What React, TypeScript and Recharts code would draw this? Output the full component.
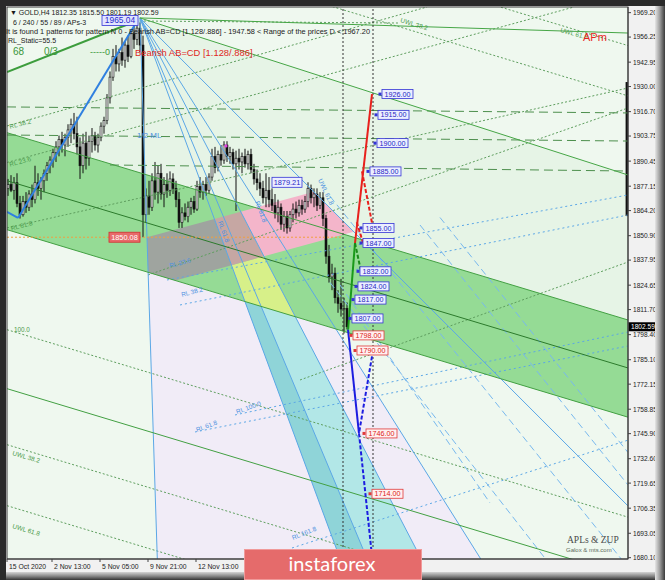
import React from 'react';
import {
  ComposedChart,
  Bar,
  XAxis,
  YAxis,
  ReferenceLine,
  ReferenceArea,
  ReferenceDot,
} from 'recharts';

type Pt = [number, number];

// ---------- GOLD H4 candles (bar index = position on the time axis) ----------
const opens = [
  1876, 1878, 1875, 1879, 1868, 1862, 1869, 1866, 1873, 1870,
  1879, 1876, 1880, 1884, 1888, 1891, 1895, 1898, 1902, 1899,
  1903, 1907, 1910, 1905, 1898, 1888, 1900, 1892, 1901, 1904,
  1899, 1903, 1909, 1912, 1924, 1935, 1946, 1942, 1948, 1944,
  1952, 1946, 1958, 1955, 1961, 1952, 1862, 1872, 1866, 1880,
  1874, 1884, 1873, 1878, 1875, 1881, 1876, 1870, 1858, 1863,
  1861, 1866, 1869, 1865, 1877, 1874, 1878, 1875, 1882, 1893,
  1887, 1894, 1891, 1899, 1893, 1895, 1889, 1892, 1890, 1893,
  1889, 1894, 1886, 1881, 1879, 1876, 1871, 1875, 1870, 1867,
  1863, 1866, 1857, 1861, 1855, 1862, 1865, 1863, 1867, 1865,
  1869, 1876, 1871, 1873, 1867, 1871, 1860, 1840, 1829, 1831,
  1818, 1815, 1812, 1812.35,
];
const highs = [
  1881, 1883, 1882, 1884, 1872, 1872, 1874, 1875, 1878, 1888,
  1884, 1882, 1886, 1890, 1893, 1897, 1901, 1904, 1906, 1905,
  1910, 1913, 1916, 1914, 1903, 1905, 1906, 1904, 1908, 1906,
  1905, 1911, 1914, 1926, 1938, 1950, 1952, 1950, 1956, 1954,
  1957, 1960, 1963, 1965.04, 1964, 1957, 1876, 1880, 1884, 1890,
  1888, 1889, 1882, 1884, 1885, 1884, 1880, 1874, 1866, 1868,
  1869, 1871, 1872, 1880, 1882, 1880, 1882, 1884, 1897, 1898,
  1896, 1899, 1901, 1901, 1898, 1897, 1896, 1897, 1895, 1897,
  1896, 1897, 1889, 1886, 1884, 1880, 1884, 1882, 1876, 1873,
  1870, 1868, 1864, 1864, 1864, 1868, 1869, 1870, 1870, 1872,
  1879.21, 1878, 1876, 1876, 1874, 1874, 1862, 1846, 1836, 1834,
  1822, 1828, 1818, 1815.5,
];
const lows = [
  1872, 1874, 1870, 1866, 1860, 1861, 1863, 1864, 1866, 1868,
  1872, 1870, 1874, 1880, 1884, 1887, 1890, 1893, 1895, 1893,
  1898, 1900, 1902, 1894, 1881, 1884, 1886, 1888, 1895, 1896,
  1895, 1901, 1905, 1910, 1921, 1933, 1938, 1938, 1941, 1940,
  1943, 1945, 1950, 1952, 1948, 1850.08, 1858, 1862, 1864, 1870,
  1868, 1870, 1866, 1871, 1872, 1873, 1866, 1855, 1855, 1859,
  1858, 1862, 1863, 1864, 1871, 1870, 1872, 1873, 1880, 1884,
  1885, 1888, 1889, 1890, 1889, 1886, 1864, 1886, 1884, 1887,
  1886, 1884, 1878, 1875, 1872, 1868, 1866, 1866, 1864, 1860,
  1858, 1854, 1853, 1852, 1853, 1858, 1860, 1861, 1862, 1863,
  1866, 1868, 1866, 1864, 1865, 1856, 1836, 1826, 1822, 1815,
  1810, 1808, 1799, 1801.19,
];
const closes = [
  1878, 1875, 1879, 1868, 1862, 1869, 1866, 1873, 1870, 1879,
  1876, 1880, 1884, 1888, 1891, 1895, 1898, 1902, 1899, 1903,
  1907, 1910, 1905, 1898, 1888, 1900, 1892, 1901, 1904, 1899,
  1903, 1909, 1912, 1924, 1935, 1946, 1942, 1948, 1944, 1952,
  1946, 1958, 1955, 1961, 1952, 1862, 1872, 1866, 1880, 1874,
  1884, 1873, 1878, 1875, 1881, 1876, 1870, 1858, 1863, 1861,
  1866, 1869, 1865, 1877, 1874, 1878, 1875, 1882, 1893, 1887,
  1894, 1891, 1899, 1893, 1895, 1889, 1892, 1890, 1893, 1889,
  1894, 1886, 1881, 1879, 1876, 1871, 1875, 1870, 1867, 1863,
  1866, 1857, 1861, 1855, 1862, 1865, 1863, 1867, 1865, 1869,
  1876, 1871, 1873, 1867, 1871, 1860, 1840, 1829, 1831, 1818,
  1815, 1812, 1812.35, 1802.59,
];

// ---------- axes ----------
const timeTicks = [0, 15, 31, 47, 63];
const timeLabels = ['15 Oct 2020', '2 Nov 13:00', '5 Nov 05:00', '9 Nov 21:00', '12 Nov 13:00'];
const priceTicks = [
  1969.2, 1956.25, 1942.95, 1930.0, 1916.7, 1903.75, 1890.45, 1877.15,
  1864.2, 1850.9, 1837.95, 1824.65, 1811.7, 1798.4, 1785.1, 1772.15,
  1758.85, 1745.9, 1732.6, 1719.65, 1706.35, 1693.05, 1680.1,
];
const lastPrice = 1802.59;
const X_MAX = 207;
const Y_MIN = 1679.4;
const Y_MAX = 1972.2;

// ---------- shaded zones (bar index, price) ----------
const upperField: Pt[] = [[0, 1937.72], [44.33, 1966.4], [207, 1883.09], [207, 1806.18], [0, 1905.53]];
const channelBand: Pt[] = [[0, 1905.53], [207, 1806.18], [207, 1754.63], [0, 1854.08]];
const lavenderZone: Pt[] = [[47.03, 1831.43], [109.63, 1801.46], [157.93, 1679.4], [50.1, 1679.4]];
const cyanZone: Pt[] = [[79.3, 1816.0], [96.13, 1807.88], [138.1, 1679.4], [111.07, 1679.4]];
const tealZone: Pt[] = [[79.3, 1816.0], [84.33, 1814.83], [120.07, 1679.4], [111.07, 1679.4]];
const yellowZone: Pt[] = [[74.83, 1835.25], [85.63, 1839.97], [96.13, 1807.88], [79.3, 1816.0]];
const greyZone: Pt[] = [[46.67, 1850.05], [69.1, 1859.81], [74.83, 1835.25], [56.13, 1827.14], [47.03, 1831.43]];
const rosyZone: Pt[] = [[69.1, 1859.81], [77.9, 1863.63], [85.63, 1839.97], [74.83, 1835.25]];
const pinkZone: Pt[] = [[77.9, 1863.63], [102.27, 1874.18], [115.6, 1852.96], [85.63, 1839.97]];

// ---------- line work ----------
const fanOrigin: Pt = [44.33, 1966.4];
const fanEnds: Pt[] = [[50.1, 1679.4], [111.07, 1679.4], [120.07, 1679.4], [138.1, 1679.4], [157.93, 1679.4], [207, 1707.53]];

const channelEdges: [Pt, Pt][] = [
  [[0, 1905.53], [207, 1806.18]],
  [[0, 1854.08], [207, 1754.63]],
  [[0, 1769.75], [207, 1670.3]],
];
const channelMedian: [Pt, Pt][] = [[[0, 1880.07], [207, 1780.73]]];
const peakRays: [Pt, Pt][] = [
  [[44.33, 1966.4], [207, 1958.4]],
  [[44.33, 1966.4], [207, 1883.09]],
];
const greenTrend: [Pt, Pt][] = [[[0, 1937.72], [43.5, 1965.04]]];
const greenDotted: [Pt, Pt][] = [
  [[0, 1740.04], [207, 1640.6]],
  [[0, 1707.69], [207, 1608.24]],
  [[0, 1801.04], [207, 1701.59]],
  [[0, 2024.55], [207, 1925.05]],
  [[0, 2051.23], [207, 1951.73]],
  [[44.33, 1964.77], [131, 1963.7]],
  [[0, 1909.08], [140, 1972.2]],
  [[0, 1889.72], [189, 1972.2]],
  [[0, 1855.0], [207, 1929.24]],
  [[47, 1830.05], [207, 1918.63]],
  [[97.67, 1774.36], [207, 1836.95]],
];
const greenDashed: [Pt, Pt][] = [
  [[0, 1919.2], [207, 1916.0]],
  [[0, 1904.3], [207, 1901.1]],
  [[34.33, 1888.4], [207, 1885.2]],
];
const blueTrend: [Pt, Pt][] = [
  [[3.67, 1860.29], [43.5, 1965.04]],
  [[0, 1863.5], [3.67, 1860.29]],
];
const blueDashed: [Pt, Pt][] = [
  [[107.67, 1871.82], [207, 1674.95]],
  [[107.67, 1826.07], [179.53, 1679.4]],
  [[111, 1824.75], [161, 1709.12]],
  [[137.67, 1856.57], [207, 1718.67]],
  [[144.33, 1860.55], [207, 1735.9]],
];
const blueDotted: [Pt, Pt][] = [
  [[53.33, 1827.4], [207, 1872.5]],
  [[57.67, 1814.14], [207, 1861.88]],
  [[62.67, 1746.78], [207, 1792.39]],
  [[76, 1755.8], [207, 1799.82]],
  [[95, 1685.25], [207, 1742.45]],
];
const lowLevel = 1850.08;
const lowLevelEnd = 112;
const sessionMarks = [112, 122];

// AB=CD projections
const redSolid: [Pt, Pt][] = [[[116, 1847], [121.67, 1926]]];
const redDashed: [Pt, Pt][] = [[[118.33, 1885], [122, 1855]], [[116.6, 1858], [118.7, 1847]]];
const greenSolid: [Pt, Pt][] = [[[113.7, 1801], [116, 1847]]];
const greenDash2: [Pt, Pt][] = [[[116, 1847], [118, 1832]]];
const blueSolid: [Pt, Pt][] = [[[113.67, 1801], [117.33, 1746]]];
const blueDash2: [Pt, Pt][] = [[[122, 1790], [117.33, 1746]], [[117.33, 1746], [122, 1676]]];

// target boxes: [price, bar index of marker]
const blueTargets: Pt[] = [
  [1926, 124.33], [1915, 123], [1900, 122.67], [1885, 120.33], [1855, 118],
  [1847, 118], [1832, 117], [1824, 116.33], [1817, 115.33], [1807, 114.33],
];
const redTargets: Pt[] = [[1798, 114.67], [1790, 116], [1746, 119], [1714, 121]];

// price tags placed to the left of their point: [bar index, price]
const swingHigh: Pt = [43.67, 1965.04];
const swingLow: Pt = [44.33, 1850.08];
const pointD: Pt = [98.33, 1879.21];

// captions: [bar index, price, text, rotation]
const greenCaptions: [number, number, string, number][] = [
  [131, 1964.2, 'UWL 38.2', 17],
  [184.3, 1958.9, 'UWL 61.8', 15],
  [1, 1907.5, 'RL 38.2', -15],
  [1, 1887.5, 'RL 23.6', -15],
  [1.5, 1853.5, 'RL 61.8', -15],
  [2.3, 1800, '100.0', 0],
  [1.7, 1734.6, 'UWL 38.2', 17],
  [1.7, 1695.9, 'UWL 61.8', 17],
];
const blueCaptions: [number, number, string, number][] = [
  [54.3, 1833.8, 'RL 23.6', -15],
  [58.3, 1818.4, 'RL 38.2', -15],
  [70.3, 1858.2, 'RL 61.8', 70],
  [82.7, 1868.8, 'RL 61.8', 70],
  [63.3, 1746.8, 'RL 61.8', -20],
  [76.7, 1756.3, 'RL 100.0', -20],
  [95.3, 1689.5, 'RL 161.8', -22],
  [103.7, 1880.4, 'UWL 61.8', 65],
  [43.3, 1902.7, '1/2 ML', 0],
];

const FONT = '"Liberation Sans", Arial, "DejaVu Sans", sans-serif';

// ---------- drawing helpers ----------
const PolyFill = (props: any) => {
  const { x, y, width, height, pts, bounds, color } = props;
  const [bx1, bx2, by1, by2] = bounds;
  const d =
    pts
      .map((p: Pt, i: number) => {
        const px = x + ((p[0] - bx1) / (bx2 - bx1)) * width;
        const py = y + ((by2 - p[1]) / (by2 - by1)) * height;
        return `${i ? 'L' : 'M'}${px},${py}`;
      })
      .join(' ') + 'Z';
  return <path d={d} fill={color} stroke="none" />;
};

const zoneEl = (key: string, pts: Pt[], color: string) => {
  const xs = pts.map((p) => p[0]);
  const ys = pts.map((p) => p[1]);
  const b = [Math.min(...xs), Math.max(...xs), Math.min(...ys), Math.max(...ys)];
  return (
    <ReferenceArea
      key={key}
      x1={b[0]}
      x2={b[1]}
      y1={b[2]}
      y2={b[3]}
      ifOverflow="hidden"
      shape={(p: any) => <PolyFill {...p} pts={pts} bounds={b} color={color} />}
    />
  );
};

const lineEls = (key: string, list: [Pt, Pt][], stroke: string, width = 1, dash?: string) =>
  list.map((s, i) => (
    <ReferenceLine
      key={`${key}-${i}`}
      segment={[{ x: s[0][0], y: s[0][1] }, { x: s[1][0], y: s[1][1] }]}
      stroke={stroke}
      strokeWidth={width}
      strokeDasharray={dash}
      ifOverflow="hidden"
    />
  ));

const Candle = (props: any) => {
  const { x, y, width, height, payload } = props;
  const { o, h, l, c } = payload;
  const top = Math.min(y, y + height);
  const hgt = Math.abs(height);
  const cx = x + width / 2;
  const span = h - l || 1;
  const yOf = (v: number) => top + ((h - v) / span) * hgt;
  const bTop = yOf(Math.max(o, c));
  const bBot = yOf(Math.min(o, c));
  const up = c >= o;
  return (
    <g>
      <line x1={cx} x2={cx} y1={top} y2={top + hgt} stroke="#111" strokeWidth={1} />
      <rect
        x={cx - 1}
        y={bTop}
        width={2}
        height={Math.max(bBot - bTop, 0.8)}
        fill={up ? '#e6e6e6' : '#111'}
        stroke="#111"
        strokeWidth={0.6}
      />
    </g>
  );
};

const targetShape = (label: string, blue: boolean) => (p: any) => {
  const stroke = blue ? '#3434d6' : '#e03a3a';
  const fill = blue ? '#eceeff' : '#fff0f0';
  const ink = blue ? '#2626c4' : '#dc2020';
  return (
    <g>
      <rect x={p.cx - 1.5} y={p.cy - 1.5} width={3} height={3} fill={stroke} />
      <rect x={p.cx + 2} y={p.cy - 4.5} width={31} height={9} fill={fill} stroke={stroke} strokeWidth={0.8} />
      <text x={p.cx + 17.5} y={p.cy + 2.6} textAnchor="middle" fontSize={7.2} fontFamily={FONT} fill={ink}>
        {label}
      </text>
    </g>
  );
};

const leftTagShape = (label: string, w: number, fill: string, stroke: string, ink: string, size: number) => (p: any) => (
  <g>
    <rect x={p.cx - w} y={p.cy - 5} width={w} height={10} fill={fill} stroke={stroke} strokeWidth={0.8} />
    <text x={p.cx - w / 2} y={p.cy + 3} textAnchor="middle" fontSize={size} fontFamily={FONT} fill={ink}>
      {label}
    </text>
  </g>
);

const captionShape = (text: string, color: string, size: number, rot: number) => (p: any) => (
  <text
    x={p.cx}
    y={p.cy}
    fill={color}
    fontSize={size}
    fontFamily={FONT}
    transform={rot ? `rotate(${rot} ${p.cx} ${p.cy})` : undefined}
  >
    {text}
  </text>
);

const PriceTick = (props: any) => {
  const { x, y, payload } = props;
  return (
    <text x={x} y={y + 2.4} fontSize={6.6} fontFamily={FONT} fill="#222" textAnchor="start">
      {Number(payload.value).toFixed(2)}
    </text>
  );
};

const TimeTick = (props: any) => {
  const { x, y, payload } = props;
  const i = timeTicks.indexOf(payload.value);
  return (
    <text x={x + 2} y={y + 5} fontSize={6.8} fontFamily={FONT} fill="#222" textAnchor="start">
      {timeLabels[i] ?? ''}
    </text>
  );
};

export default function App() {
  const candles = opens.map((o, i) => ({ x: i + 0.5, o, h: highs[i], l: lows[i], c: closes[i] }));

  return (
    <div style={{ position: 'absolute', left: 0, top: 0, width: 665, height: 580, background: '#f1f1f1', overflow: 'hidden' }}>
      <ComposedChart width={665} height={580} data={candles} margin={{ top: 7, right: 0, bottom: 0, left: 7 }}>
        <XAxis
          dataKey="x"
          type="number"
          domain={[0, X_MAX]}
          allowDataOverflow
          ticks={timeTicks}
          interval={0}
          height={21}
          tickSize={3}
          tick={<TimeTick />}
          stroke="#444"
        />
        <YAxis
          orientation="right"
          type="number"
          domain={[Y_MIN, Y_MAX]}
          allowDataOverflow
          ticks={priceTicks}
          interval={0}
          width={37}
          tickSize={3}
          tick={<PriceTick />}
          stroke="#444"
        />

        <ReferenceArea x1={0} x2={X_MAX} y1={Y_MIN} y2={Y_MAX} fill="#eff8ef" fillOpacity={1} ifOverflow="hidden" />
        {zoneEl('upper', upperField, '#e6f4e6')}
        {zoneEl('band', channelBand, '#95db95')}
        {zoneEl('lav', lavenderZone, '#f1ecf7')}
        {zoneEl('cyan', cyanZone, '#b2e7e7')}
        {zoneEl('teal', tealZone, '#8fd4d8')}
        {zoneEl('yel', yellowZone, '#d7f089')}
        {zoneEl('grey', greyZone, '#9fa49f')}
        {zoneEl('rosy', rosyZone, '#c6a7a3')}
        {zoneEl('pink', pinkZone, '#f4b5ca')}

        {lineEls('gd', greenDotted, '#5e9e5e', 1, '2 2')}
        {lineEls('gdash', greenDashed, '#4d8f4d', 1, '9 5')}
        {lineEls('bdot', blueDotted, '#5ba7e6', 1, '2 3')}
        {lineEls('bdash', blueDashed, '#78b8ee', 1, '7 4')}
        {lineEls(
          'fan',
          fanEnds.map((e) => [fanOrigin, e] as [Pt, Pt]),
          '#5ba7e6',
          1
        )}
        {lineEls('edge', channelEdges, '#43a043', 1)}
        {lineEls('med', channelMedian, '#2c7a2c', 1)}
        {lineEls('ray', peakRays, '#46a646', 1)}
        {lineEls('gtr', greenTrend, '#3d9d3d', 2)}
        {lineEls('btr', blueTrend, '#2f80e0', 2)}
        <ReferenceLine
          segment={[{ x: 0, y: lowLevel }, { x: lowLevelEnd, y: lowLevel }]}
          stroke="#f0a040"
          strokeDasharray="2 2"
          ifOverflow="hidden"
        />
        {sessionMarks.map((m) => (
          <ReferenceLine key={`vm-${m}`} x={m} stroke="#333" strokeDasharray="2 2" />
        ))}
        <ReferenceArea x1={206.2} x2={X_MAX} y1={1861.3} y2={1932.4} fill="#111" fillOpacity={1} ifOverflow="hidden" />

        <Bar
          dataKey={(d: any) => [d.l, d.h]}
          barSize={2}
          isAnimationActive={false}
          shape={(p: any) => <Candle {...p} />}
        />

        {lineEls('rs', redSolid, '#e8201c', 2)}
        {lineEls('rd', redDashed, '#e8201c', 2, '4 2')}
        {lineEls('gs', greenSolid, '#1a9a1a', 2)}
        {lineEls('gdd', greenDash2, '#1a8a1a', 2, '4 2')}
        {lineEls('bs', blueSolid, '#1c1ce0', 2)}
        {lineEls('bd', blueDash2, '#1c1ce0', 2, '4 2')}

        <ReferenceDot x={73} y={1898.5} r={1.6} fill="#e040e0" stroke="none" />

        {blueTargets.map(([price, idx]) => (
          <ReferenceDot key={`bt-${price}`} x={idx} y={price} r={0} ifOverflow="visible" shape={targetShape(price.toFixed(2), true)} />
        ))}
        {redTargets.map(([price, idx]) => (
          <ReferenceDot key={`rt-${price}`} x={idx} y={price} r={0} ifOverflow="visible" shape={targetShape(price.toFixed(2), false)} />
        ))}
        <ReferenceDot x={swingHigh[0]} y={swingHigh[1]} r={0} ifOverflow="visible"
          shape={leftTagShape(swingHigh[1].toFixed(2), 36, '#e2e5ff', '#3434d6', '#2a2acc', 8.4)} />
        <ReferenceDot x={swingLow[0]} y={swingLow[1]} r={0} ifOverflow="visible"
          shape={leftTagShape(swingLow[1].toFixed(2), 31, '#e86a6a', '#d03030', '#ffffff', 7.4)} />
        <ReferenceDot x={pointD[0]} y={pointD[1]} r={0} ifOverflow="visible"
          shape={leftTagShape(pointD[1].toFixed(2), 30, '#eceeff', '#3434d6', '#2626c4', 7.4)} />

        {greenCaptions.map(([x, y, t, r], i) => (
          <ReferenceDot key={`gc-${i}`} x={x} y={y} r={0} ifOverflow="visible" shape={captionShape(t, '#4a9a4a', 6.4, r)} />
        ))}
        {blueCaptions.map(([x, y, t, r], i) => (
          <ReferenceDot key={`bc-${i}`} x={x} y={y} r={0} ifOverflow="visible" shape={captionShape(t, '#4a90e0', t === '1/2 ML' ? 8 : 6.4, r)} />
        ))}
        <ReferenceDot x={42.67} y={1946.2} r={0} ifOverflow="visible" shape={captionShape('Bearish AB=CD [1.128/.886]', '#e0281e', 9.4, 0)} />
        <ReferenceDot x={192} y={1954.2} r={0} ifOverflow="visible" shape={captionShape('APm', '#e8281e', 11, 0)} />

        <ReferenceDot
          x={X_MAX}
          y={lastPrice}
          r={0}
          ifOverflow="visible"
          shape={(p: any) => (
            <g>
              <rect x={p.cx + 0.5} y={p.cy - 4.5} width={30} height={9} fill="#000" />
              <text x={p.cx + 3} y={p.cy + 2.4} fontSize={6.6} fontFamily={FONT} fill="#fff">
                {lastPrice.toFixed(2)}
              </text>
            </g>
          )}
        />
      </ComposedChart>

      <svg
        width={665}
        height={580}
        style={{ position: 'absolute', left: 0, top: 0, pointerEvents: 'none' }}
      >
        <defs>
          <linearGradient id="bevelRight" x1="0" x2="1" y1="0" y2="0">
            <stop offset="0" stopColor="#e6e6e6" />
            <stop offset="0.5" stopColor="#9a9a9a" />
            <stop offset="1" stopColor="#3a3a3a" />
          </linearGradient>
          <linearGradient id="bevelBottom" x1="0" x2="0" y1="0" y2="1">
            <stop offset="0" stopColor="#d4d4d4" />
            <stop offset="0.5" stopColor="#8a8a8a" />
            <stop offset="1" stopColor="#333" />
          </linearGradient>
        </defs>
        <rect x={0} y={572} width={665} height={8} fill="url(#bevelBottom)" />
        <rect x={655} y={0} width={10} height={580} fill="url(#bevelRight)" />
        <rect x={0} y={0} width={665} height={6} fill="#2a2a2a" />
        <rect x={0} y={0} width={6} height={580} fill="#2a2a2a" />
        <rect x={7} y={7} width={621} height={552} fill="none" stroke="#3a3a3a" strokeWidth={1} />

        <g fontFamily={FONT} fill="#1a1a1a">
          <text x={10} y={15} fontSize={7}>▼ GOLD,H4  1812.35 1815.50 1801.19 1802.59</text>
          <text x={13} y={25} fontSize={7}>6 / 240 / 55 / 89 / APs-3</text>
          <text x={6} y={34} fontSize={6.6} textLength={364} lengthAdjust="spacingAndGlyphs">
            It is found 1 patterns   for pattern N 0 - Bearish AB=CD [1.128/.886] - 1947.58 &lt; Range of the prices D &lt; 1967.20
          </text>
          <text x={8} y={43} fontSize={7}>RL_Static=55.5</text>
          <text x={13} y={55} fontSize={10} fill="#3a963a">68</text>
          <text x={44} y={55} fontSize={10} fill="#3a963a">0/3</text>
          <text x={90} y={55} fontSize={9} fill="#3a963a">-----0</text>
        </g>

        <text x={567} y={543} fontSize={9.5} fontFamily='"Liberation Serif", serif' fill="#4a4a4a">APLs &amp; ZUP</text>
        <text x={566} y={552} fontSize={6} fontFamily={FONT} fill="#5a6a5a">Galox &amp; mts.com</text>

        <rect x={244} y={549} width={178} height={31} fill="#e56b6b" />
        <rect x={244.5} y={549.5} width={177} height={30} fill="none" stroke="#f09a9a" strokeWidth={1} />
        <text x={332} y={571} textAnchor="middle" fontSize={20} fontFamily="Lato, 'Open Sans', sans-serif" fill="#ffffff">
          instaforex
        </text>
      </svg>
    </div>
  );
}
